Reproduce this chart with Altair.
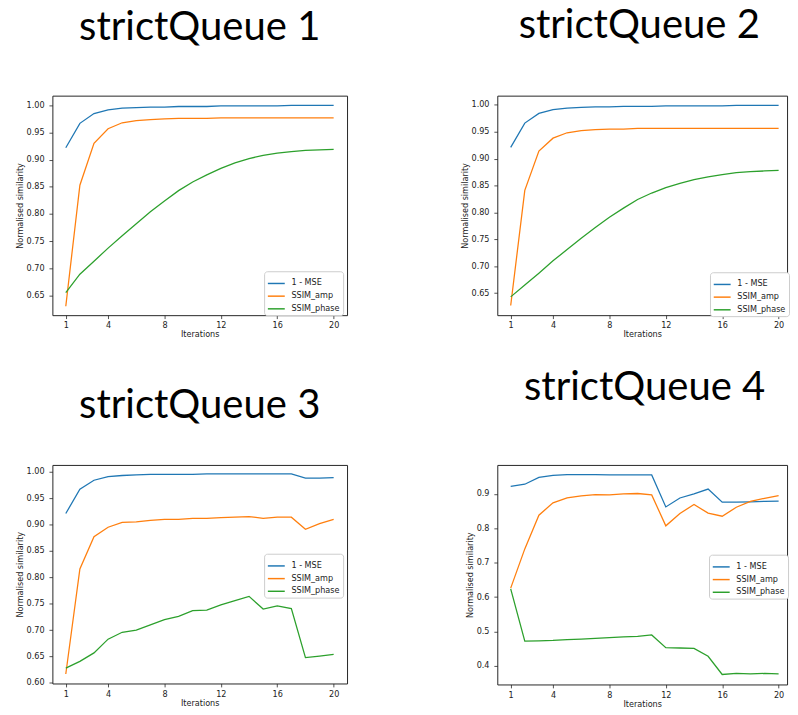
import altair as alt
import pandas as pd

iterations = list(range(1, 21))
series_names = ["1 - MSE", "SSIM_amp", "SSIM_phase"]
series_colors = ["#1f77b4", "#ff7f0e", "#2ca02c"]
x_ticks = [1, 4, 8, 12, 16, 20]
y_ticks_a = [0.65, 0.70, 0.75, 0.80, 0.85, 0.90, 0.95, 1.00]
y_ticks_c = [0.60, 0.65, 0.70, 0.75, 0.80, 0.85, 0.90, 0.95, 1.00]
y_ticks_d = [0.4, 0.5, 0.6, 0.7, 0.8, 0.9]
titles = ["strictQueue 1", "strictQueue 2", "strictQueue 3", "strictQueue 4"]

q1_mse = [0.922, 0.967, 0.985, 0.992, 0.995, 0.996, 0.997, 0.997, 0.998, 0.998,
          0.998, 0.999, 0.999, 0.999, 0.999, 0.999, 1.000, 1.000, 1.000, 1.000]
q1_amp = [0.630, 0.853, 0.930, 0.957, 0.968, 0.972, 0.974, 0.975, 0.976, 0.976,
          0.976, 0.977, 0.977, 0.977, 0.977, 0.977, 0.977, 0.977, 0.977, 0.977]
q1_phase = [0.655, 0.689, 0.713, 0.737, 0.760, 0.782, 0.804, 0.824, 0.843, 0.859,
            0.872, 0.884, 0.894, 0.902, 0.908, 0.912, 0.915, 0.917, 0.918, 0.919]

q2_mse = [0.921, 0.966, 0.984, 0.991, 0.994, 0.995, 0.996, 0.996, 0.997, 0.997,
          0.997, 0.998, 0.998, 0.998, 0.998, 0.998, 0.999, 0.999, 0.999, 0.999]
q2_amp = [0.627, 0.841, 0.914, 0.938, 0.948, 0.952, 0.954, 0.955, 0.955, 0.956,
          0.956, 0.956, 0.956, 0.956, 0.956, 0.956, 0.956, 0.956, 0.956, 0.956]
q2_phase = [0.643, 0.665, 0.687, 0.710, 0.731, 0.752, 0.772, 0.791, 0.808, 0.824,
            0.836, 0.846, 0.854, 0.861, 0.866, 0.870, 0.874, 0.876, 0.877, 0.878]

q3_mse = [0.921, 0.967, 0.984, 0.991, 0.993, 0.994, 0.995, 0.995, 0.995, 0.995,
          0.996, 0.996, 0.996, 0.996, 0.996, 0.996, 0.996, 0.988, 0.988, 0.989]
q3_amp = [0.617, 0.816, 0.877, 0.895, 0.904, 0.905, 0.908, 0.910, 0.910, 0.912,
          0.912, 0.913, 0.914, 0.915, 0.912, 0.914, 0.914, 0.891, 0.902, 0.910]
q3_phase = [0.628, 0.641, 0.657, 0.683, 0.696, 0.700, 0.710, 0.720, 0.726, 0.737,
            0.738, 0.748, 0.756, 0.764, 0.740, 0.746, 0.741, 0.648, 0.651, 0.654]

q4_mse = [0.922, 0.928, 0.948, 0.954, 0.956, 0.956, 0.956, 0.955, 0.955, 0.955,
          0.955, 0.862, 0.888, 0.900, 0.914, 0.876, 0.876, 0.877, 0.878, 0.879]
q4_amp = [0.626, 0.740, 0.838, 0.874, 0.888, 0.894, 0.898, 0.897, 0.900, 0.901,
          0.897, 0.807, 0.843, 0.869, 0.844, 0.835, 0.861, 0.878, 0.887, 0.895]
q4_phase = [0.624, 0.472, 0.473, 0.474, 0.476, 0.478, 0.480, 0.482, 0.484, 0.486,
            0.490, 0.453, 0.452, 0.451, 0.428, 0.375, 0.378, 0.377, 0.378, 0.377]

FONT = "DejaVu Sans"
FS = 8.3


def panel(title, mse, amp, phase, xdom, ydom, yticks, yfmt, lx, ly,
          width, height, t_offset, t_dx):
    df = pd.DataFrame({
        "Iterations": iterations * 3,
        "series": [series_names[0]] * 20 + [series_names[1]] * 20 + [series_names[2]] * 20,
        "value": mse + amp + phase,
    })
    return alt.Chart(df).mark_line(strokeWidth=1.3).encode(
        x=alt.X("Iterations:Q",
                scale=alt.Scale(domain=xdom, nice=False, zero=False),
                axis=alt.Axis(values=x_ticks, format="d", title="Iterations",
                              titlePadding=1, labelFlush=False)),
        y=alt.Y("value:Q",
                scale=alt.Scale(domain=ydom, nice=False, zero=False),
                axis=alt.Axis(values=yticks, format=yfmt, labelPadding=5,
                              title="Normalised similarity", titlePadding=2)),
        color=alt.Color("series:N",
                        scale=alt.Scale(domain=series_names, range=series_colors),
                        legend=alt.Legend(title=None, orient="none",
                                          legendX=lx, legendY=ly,
                                          symbolType="stroke", symbolSize=300,
                                          symbolStrokeWidth=1.5,
                                          labelFont=FONT, labelFontSize=FS,
                                          labelColor="#222", labelOffset=6,
                                          fillColor="white", strokeColor="#cccccc",
                                          cornerRadius=3, padding=3, rowPadding=0)),
    ).properties(
        width=width, height=height,
        title=alt.TitleParams(text=title, font="Lato", fontSize=41,
                              fontWeight="normal", color="black",
                              anchor="middle", frame="group",
                              baseline="alphabetic", offset=t_offset, dx=t_dx),
    )


p1 = panel(titles[0], q1_mse, q1_amp, q1_phase, [0.05, 20.95], [0.6135, 1.018],
           y_ticks_a, ".2f", 217, 180, 302, 225, 16, 0)
p2 = panel(titles[1], q2_mse, q2_amp, q2_phase, [0.05, 20.6], [0.609, 1.017],
           y_ticks_a, ".2f", 218, 181, 297, 225, 17.8, -3)
p3 = panel(titles[2], q3_mse, q3_amp, q3_phase, [0.05, 20.95], [0.599, 1.013],
           y_ticks_c, ".2f", 217, 91, 302, 224, 7, 0)
p4 = panel(titles[3], q4_mse, q4_amp, q4_phase, [0.05, 20.6], [0.346, 0.984],
           y_ticks_d, ".1f", 217, 92, 297, 225, 25.6, 2.5)

chart = alt.concat(
    p1, p2, p3, p4, columns=2, bounds="flush",
    spacing={"row": 153.5, "column": 154},
).resolve_scale(
    color="independent"
).properties(
    padding={"left": 6.5, "top": -12, "right": 0, "bottom": 0},
).configure_view(
    stroke="#222", strokeWidth=1
).configure_axis(
    domain=False, grid=False, tickColor="#222", tickSize=3.5, tickWidth=0.8,
    labelFont=FONT, labelFontSize=FS, labelColor="#222", labelPadding=2.5,
    titleFont=FONT, titleFontSize=FS, titleFontWeight="normal", titleColor="#222",
)

chart.save("out.html", embed_options={"renderer": "svg", "actions": False})
